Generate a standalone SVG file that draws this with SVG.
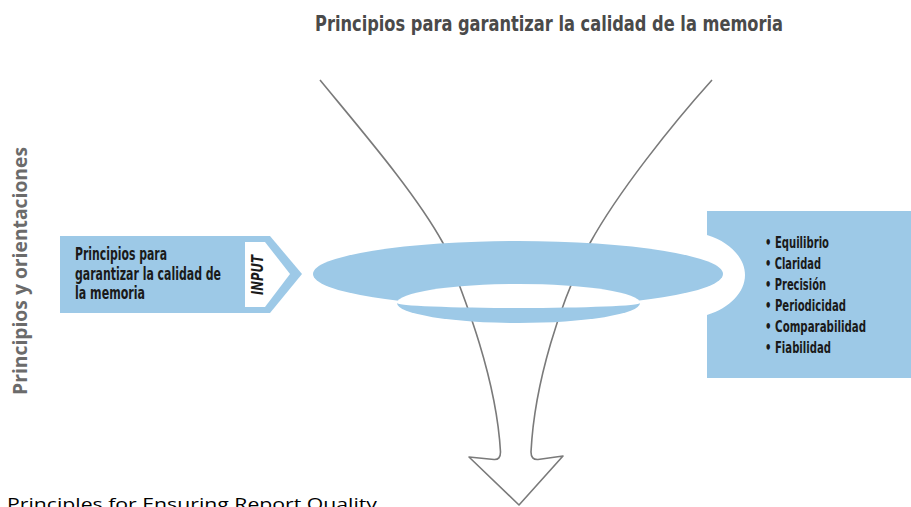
<svg xmlns="http://www.w3.org/2000/svg" width="911" height="507" viewBox="0 0 911 507">
<style>
.cond{font-family:"Liberation Sans Narrow","DejaVu Sans Condensed","Liberation Sans",sans-serif;font-weight:bold}
.title{font-size:22px;fill:#4a4a4a}
.side{font-family:"Open Sans","Liberation Sans",sans-serif;font-weight:bold;font-size:19px;fill:#6b6b6b}
.box{font-size:17px;fill:#1a1a1a}
.bul{font-size:15px;fill:#1a1a1a}
.inp{font-size:15px;font-style:italic;fill:#1a1a1a}
.cap{font-family:"Open Sans","Liberation Sans",sans-serif;font-size:17px;fill:#000}
.blue{fill:#9dc9e7}
.line{fill:none;stroke:#7a7a7a;stroke-width:1.6;stroke-linejoin:round}
</style>
<defs>
<mask id="hole">
<rect x="0" y="0" width="911" height="507" fill="#fff"/>
<path d="M397,303 A121.5,19 0 0 1 640,303 A121.5,5 0 0 1 397,303 Z" fill="#000"/>
</mask>
</defs>
<rect width="911" height="507" fill="#fff"/>

<text class="cond title" x="315" y="31" textLength="468" lengthAdjust="spacingAndGlyphs">Principios para garantizar la calidad de la memoria</text>
<text class="side" transform="translate(27,271) rotate(-90)" text-anchor="middle" textLength="248" lengthAdjust="spacingAndGlyphs">Principios y orientaciones</text>

<g id="connectors">
<path class="line" d="M320,80 C361,130 415.5,193 443,243 C467,303 496.5,380 500.5,452 Q500.5,460 494,459.5 L469,457 L519,505 L563,456 L538,459.5 Q531,460 531,452 C534.5,382 560,303 590,243 C617.5,193 671.5,125 712,80"/>
</g>

<g id="ring" mask="url(#hole)">
<ellipse class="blue" cx="518" cy="274" rx="205" ry="33"/>
<path class="blue" d="M397,303 A121.5,20 0 0 0 640,303 Z"/>
</g>

<g id="input-box">
<path class="blue" d="M60,236 H270 L302,274 L270,313 H60 Z"/>
<path d="M245,242 H265 L290,274 L265,307 H245 Z" fill="#fff"/>
<text class="cond box" x="75" y="260" textLength="92" lengthAdjust="spacingAndGlyphs">Principios para</text>
<text class="cond box" x="75" y="280" textLength="146" lengthAdjust="spacingAndGlyphs">garantizar la calidad de</text>
<text class="cond box" x="75" y="299" textLength="70" lengthAdjust="spacingAndGlyphs">la memoria</text>
<text class="cond inp" transform="translate(263,275) rotate(-90)" text-anchor="middle" textLength="40" lengthAdjust="spacingAndGlyphs">INPUT</text>
</g>

<g id="output-box">
<path class="blue" d="M707,211 H911 V378 H707 V315 C730,308 745,292 745,275 C745,258 730,242 707,235 Z"/>
<text class="cond bul" x="765" y="248" textLength="64" lengthAdjust="spacingAndGlyphs">• Equilibrio</text>
<text class="cond bul" x="765" y="268.5" textLength="56" lengthAdjust="spacingAndGlyphs">• Claridad</text>
<text class="cond bul" x="765" y="289.5" textLength="61" lengthAdjust="spacingAndGlyphs">• Precisión</text>
<text class="cond bul" x="765" y="311" textLength="81" lengthAdjust="spacingAndGlyphs">• Periodicidad</text>
<text class="cond bul" x="765" y="332" textLength="101" lengthAdjust="spacingAndGlyphs">• Comparabilidad</text>
<text class="cond bul" x="765" y="353" textLength="66" lengthAdjust="spacingAndGlyphs">• Fiabilidad</text>
</g>

<text class="cap" x="7" y="510" textLength="370" lengthAdjust="spacingAndGlyphs">Principles for Ensuring Report Quality</text>
</svg>
